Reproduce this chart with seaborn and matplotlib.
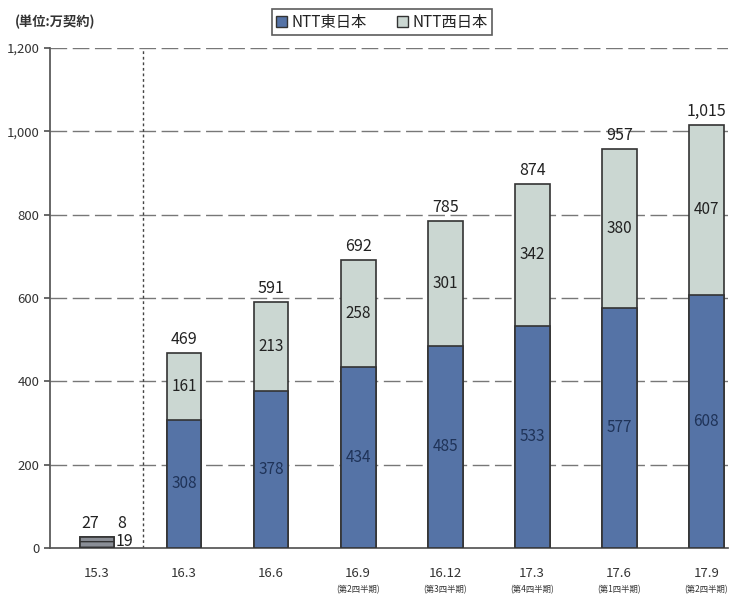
import matplotlib
matplotlib.use("Agg")
import matplotlib.pyplot as plt
import seaborn as sns
import pandas as pd
import numpy as np

sns.set_theme(style="white")
plt.rcParams['font.family'] = ['Noto Sans CJK JP', 'DejaVu Sans']

categories = ["15.3", "16.3", "16.6", "16.9", "16.12", "17.3", "17.6", "17.9"]
sublabels = ["", "", "", "(第2四半期)", "(第3四半期)", "(第4四半期)", "(第1四半期)", "(第2四半期)"]
east = [19, 308, 378, 434, 485, 533, 577, 608]
west = [8, 161, 213, 258, 301, 342, 380, 407]
totals = [27, 469, 591, 692, 785, 874, 957, 1015]
yticks = [0, 200, 400, 600, 800, 1000, 1200]

east_color = "#5573a6"
west_color = "#cbd7d2"
first_color = "#8a8e96"

df = pd.DataFrame({"cat": categories, "east": east, "west": west, "total": totals})

fig = plt.figure(figsize=(7.31, 5.99), dpi=100)
ax = fig.add_axes([50/731, 51/599, 678/731, 500/599])

for y in yticks[1:]:
    ax.axhline(y, color="#555555", lw=1.0, ls=(0, (12, 4)), zorder=0, alpha=0.8)

pal_e = {c: (first_color if i == 0 else east_color) for i, c in enumerate(categories)}
pal_w = {c: ("#ffffff00" if i == 0 else west_color) for i, c in enumerate(categories)}

sns.barplot(data=df, x="cat", y="total", hue="cat", palette=pal_w, legend=False,
            width=0.4, ax=ax, edgecolor="#333333", linewidth=1.2, saturation=1, zorder=2)
sns.barplot(data=df, x="cat", y="east", hue="cat", palette=pal_e, legend=False,
            width=0.4, ax=ax, edgecolor="#333333", linewidth=1.2, saturation=1, zorder=3)

# first bar: single grey bar of total
ax.patches[0].set_facecolor(first_color)
ax.patches[len(categories)].set_height(totals[0])
ax.patches[len(categories)].set_hatch("---")

for i in range(1, len(categories)):
    ax.text(i, east[i] / 2, str(east[i]), ha="center", va="center", fontsize=11,
            color="#1f3358", zorder=5)
    ax.text(i, east[i] + west[i] / 2, str(west[i]), ha="center", va="center",
            fontsize=11, color="#222222", zorder=5)
    ax.text(i, totals[i] + 12, f"{totals[i]:,}", ha="center", va="bottom",
            fontsize=11.5, color="#222222", zorder=5)

ax.text(-0.08, totals[0] + 12, str(totals[0]), ha="center", va="bottom", fontsize=11.5, color="#222222")
ax.text(0.28, totals[0] + 12, str(west[0]), ha="center", va="bottom", fontsize=11.5, color="#222222")
ax.text(0.32, east[0] - 4, str(east[0]), ha="center", va="center", fontsize=11.5, color="#222222")

ax.axvline(0.53, color="#444444", lw=1.0, ls=(0, (2, 2)), zorder=1)

ax.set_xlim(-0.54, 7.25)
ax.set_ylim(0, 1200)
ax.set_yticks(yticks)
ax.set_yticklabels([f"{v:,}" for v in yticks], fontsize=9.5, color="#333333")
ax.set_xticks(range(len(categories)))
ax.set_xticklabels(categories, fontsize=9.5, color="#333333")
ax.tick_params(axis="x", length=0, pad=14)
ax.tick_params(axis="y", length=4, color="#555555", direction="out", left=True)
ax.set_xlabel("")
ax.set_ylabel("")
for s in ["top", "right"]:
    ax.spines[s].set_visible(False)
ax.spines["left"].set_color("#555555")
ax.spines["bottom"].set_color("#555555")

for i, s in enumerate(sublabels):
    if s:
        ax.text(i, -0.074, s, transform=ax.get_xaxis_transform(), ha="center", va="top",
                fontsize=6, color="#333333")

fig.text(15/731, 1 - 22/599, "(単位:万契約)", ha="left", va="center", fontsize=9.5,
         color="#333333", fontweight="bold")

from matplotlib.patches import Patch
handles = [Patch(facecolor=east_color, edgecolor="#333333", label="NTT東日本"),
           Patch(facecolor=west_color, edgecolor="#333333", label="NTT西日本")]
leg = fig.legend(handles=handles, loc="center", bbox_to_anchor=(382/731, 1 - 22/599), ncol=2,
                 frameon=True, fontsize=11, handlelength=0.7, handleheight=0.7,
                 handletextpad=0.3, columnspacing=2.0, fancybox=False, borderpad=0.3,
                 borderaxespad=0)
leg.get_frame().set_edgecolor("#333333")
leg.get_frame().set_linewidth(1.2)
for t in leg.get_texts():
    t.set_color("#222222")

fig.savefig("out.png", dpi=100)
